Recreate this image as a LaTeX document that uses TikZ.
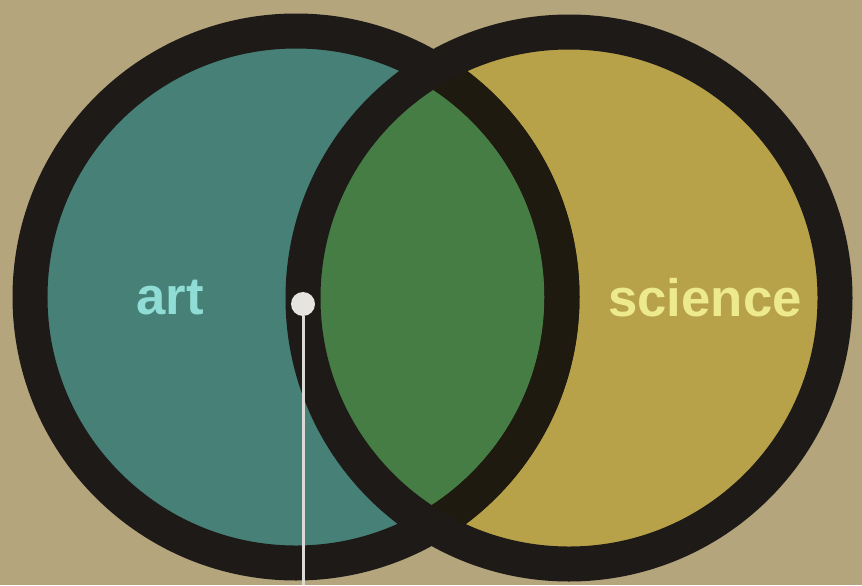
\documentclass[tikz,border=0pt]{standalone}
\usepackage{fontspec}
\setmainfont{Liberation Sans}
\definecolor{paper}{HTML}{B4A57D}
\definecolor{artfill}{HTML}{468077}
\definecolor{scifill}{HTML}{B7A249}
\definecolor{both}{HTML}{467D45}
\definecolor{ring}{HTML}{1D1A18}
\definecolor{ringtint}{HTML}{1F1A0F}
\definecolor{arttext}{HTML}{8FDDD4}
\definecolor{scitext}{HTML}{EDEA8E}
\definecolor{pin}{HTML}{E6E4DE}
\tikzset{
  label/.style={font=\bfseries\fontsize{30}{30}\selectfont, inner sep=0pt},
  rim/.style={draw=ring, line width=0.7cm},
}
\begin{document}
\begin{tikzpicture}[x=0.02cm, y=-0.02cm, line join=round, line cap=round]
			\useasboundingbox (0,0) rectangle (862,585);
			\fill[paper] (0,0) rectangle (862,585);
			\coordinate (artc) at (296,297);
			\coordinate (scic) at (569,298);
			% fills
			\fill[artfill] (artc) circle (252);
			\fill[scifill] (scic) circle (252);
			\begin{scope}
				\clip (artc) circle (252);
				\fill[both] (scic) circle (252);
			\end{scope}
			% rings
			\draw[rim] (artc) circle (266);
			\draw[rim] (scic) circle (266);
			\begin{scope}
				\clip (scic) circle (249);
				\draw[rim, draw=ringtint] (artc) circle (266);
			\end{scope}
			\node[label, text=arttext] (art) at (170,298) {art};
			\node[label, text=scitext] (science) at (705,298) {science};
			\node[circle, fill=pin, inner sep=0pt, minimum size=0.48cm] (dot) at (303,304) {};
			\coordinate (foot) at (303,585);
			\draw[pin!90!gray, line width=0.06cm, line cap=butt] (dot) -- (foot);
		\end{tikzpicture}
\end{document}
